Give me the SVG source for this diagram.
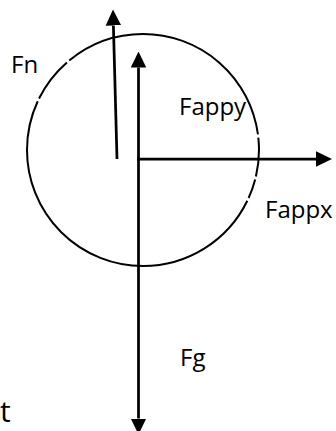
<svg xmlns="http://www.w3.org/2000/svg" width="336" height="431" viewBox="0 0 336 431">
<style>
.lbl{font-family:"Open Sans","Liberation Sans",sans-serif;font-size:24px;fill:#000}
.arr{stroke:#000;stroke-width:2.75;fill:none;marker-end:url(#head)}
</style>
<defs>
<marker id="head" markerUnits="userSpaceOnUse" markerWidth="16" markerHeight="16" refX="0" refY="7.75" orient="auto" viewBox="0 0 16 15.5">
<path d="M0,0 L16,7.75 L0,15.5 Z" fill="#000"/>
</marker>
</defs>
<rect width="336" height="431" fill="#fff"/>
<g id="body">
<circle cx="143" cy="150" r="116" fill="none" stroke="#000" stroke-width="2" pathLength="360" stroke-dasharray="13.25 1.5 9.7 1.5 178.9 1.5 22.65 1.5 121.75 1.5 6.25 0"/>
</g>
<g id="connectors">
<line class="arr" x1="117" y1="159" x2="113.4" y2="25.5"/>
<line class="arr" x1="138.5" y1="159" x2="138.5" y2="67.5"/>
<line class="arr" x1="137.2" y1="159" x2="316" y2="159"/>
<line class="arr" x1="138.5" y1="157.7" x2="138.5" y2="418.5"/>
</g>
<g id="label-fn"><text class="lbl" x="11" y="73">Fn</text></g>
<g id="label-fappy"><text class="lbl" x="179" y="115">Fappy</text></g>
<g id="label-fappx"><text class="lbl" x="265" y="218">Fappx</text></g>
<g id="label-fg"><text class="lbl" x="180" y="366">Fg</text></g>
<g id="label-t"><text class="lbl" x="0" y="422" style="font-size:30px">t</text></g>
</svg>
